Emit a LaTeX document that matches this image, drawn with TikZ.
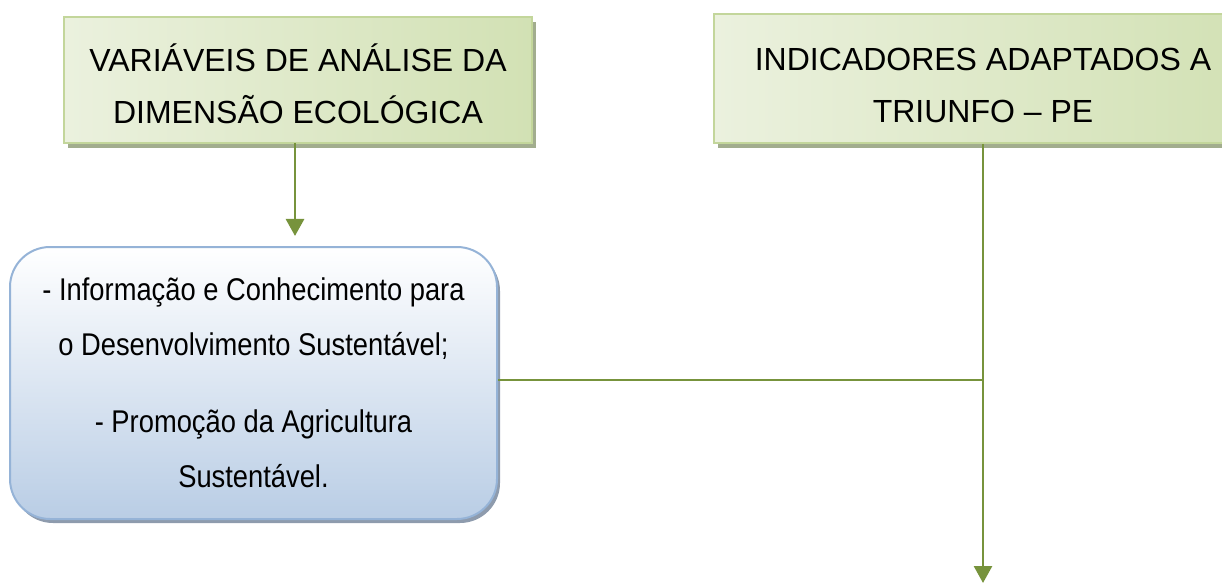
\documentclass[tikz,border=0pt]{standalone}
\usepackage{fontspec}
\setmainfont{Liberation Sans}
\newfontfamily\estreita{Liberation Sans}[FakeStretch=0.87]
\usetikzlibrary{arrows.meta,shadows}

\definecolor{verdelinha}{HTML}{77933C}
\definecolor{verdeclaro}{HTML}{EBF1DE}
\definecolor{verdeescuro}{HTML}{D2E1B4}
\definecolor{verdeborda}{HTML}{C3D69B}
\definecolor{verdesombra}{HTML}{A2AD8E}
\definecolor{azulborda}{HTML}{95B3D7}
\definecolor{azulfundo}{HTML}{B9CDE5}
\definecolor{azulsombra}{HTML}{8E9BAD}

\begin{document}
\begin{tikzpicture}[x=0.5pt,y=-0.5pt,
    cabecalho/.style={draw=verdeborda, line width=1pt, left color=verdeclaro, right color=verdeescuro,
      drop shadow={shadow xshift=2pt, shadow yshift=-2.5pt, fill=verdesombra, opacity=1},
      align=center, font=\fontsize{16}{26}\selectfont, inner sep=0pt},
    caixa/.style={draw=azulborda, line width=1pt, rounded corners=20pt, top color=white, bottom color=azulfundo,
      drop shadow={shadow xshift=1.5pt, shadow yshift=-2pt, fill=azulsombra, opacity=1},
      align=center, font=\estreita\fontsize{15.7}{27.5}\selectfont, minimum width=243.5pt, minimum height=136pt, inner sep=0pt},
    seta/.style={verdelinha, line width=1.4pt, -{Triangle[width=9pt,length=8.5pt]}},
    liga/.style={verdelinha, line width=1pt}]
  \useasboundingbox (0,0) rectangle (1222,583);
  \clip (0,0) rectangle (1222,583);
  \node[cabecalho, minimum width=234pt, minimum height=63pt] (varia) at (298,80) {\rule{0pt}{18pt}VARIÁVEIS DE ANÁLISE DA\\DIMENSÃO ECOLÓGICA};
  \node[cabecalho, minimum width=269pt, minimum height=64.5pt] (indic) at (983,78.5) {\rule{0pt}{18pt}INDICADORES ADAPTADOS A\\TRIUNFO – PE};
  \node[caixa] (variav) at (253.5,383) {- Informação e Conhecimento para\\o Desenvolvimento Sustentável;\\[11pt]- Promoção da Agricultura\\Sustentável.};
  \coordinate (juncao) at (983,380);
  \coordinate (fim) at (983,583);
  \draw[seta, shorten >=5pt] (295,143) coordinate (saida) -- (saida |- variav.north);
  \draw[liga] (variav.east |- juncao) -- (juncao);
  \draw[seta] (indic.south) -- (fim);
\end{tikzpicture}
\end{document}
